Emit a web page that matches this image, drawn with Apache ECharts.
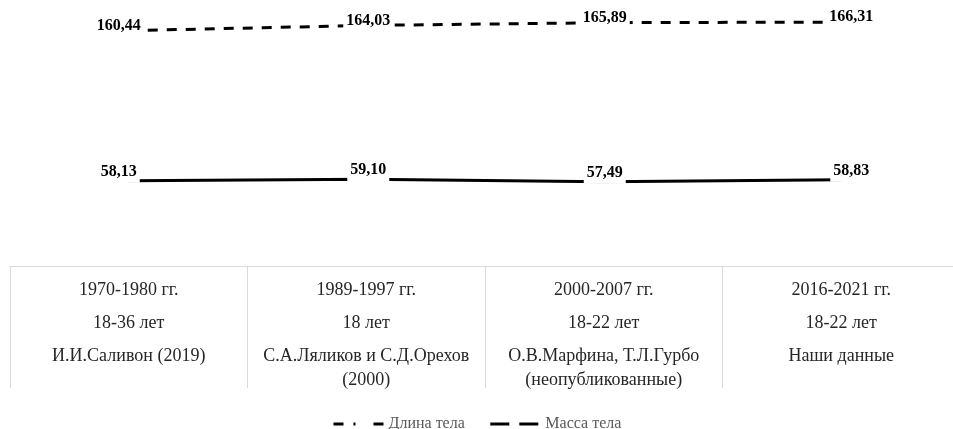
<!DOCTYPE html>
<html>
<head>
<meta charset="utf-8">
<script src="https://cdn.jsdelivr.net/npm/echarts@6/dist/echarts.min.js"></script>
<style>
  html, body { margin: 0; padding: 0; background: #fff; overflow: hidden; }
  /* правая граница таблицы уходит за край картинки */
  #chart { width: 960px; height: 429px; }
</style>
</head>
<body>
<div id="chart"></div>
<script>
var periods = ['1970-1980 гг.', '1989-1997 гг.', '2000-2007 гг.', '2016-2021 гг.']
var ages = ['18-36 лет', '18 лет', '18-22 лет', '18-22 лет']
var authors = ['И.И.Саливон (2019)', 'С.А.Ляликов и С.Д.Орехов\n(2000)', 'О.В.Марфина, Т.Л.Гурбо\n(неопубликованные)', 'Наши данные']
var lengthValues = [160.44, 164.03, 165.89, 166.31]
var massValues = [58.13, 59.10, 57.49, 58.83]
var seriesNames = ['Длина тела', 'Масса тела']

var font = "'Liberation Serif', 'Times New Roman', serif"
// сдвиг подписей по горизонтали (крайние немного наружу)
var labelDx = [-10, 2, 1, 10]

function makeData(values, dy) {
  return values.map(function(v, i) {
    return { value: v, label: { offset: [labelDx[i], dy] } }
  })
}

var chart = echarts.init(document.getElementById('chart'))

var valueLabel = {
  show: true,
  position: 'inside',
  formatter: function(p) {
    return p.value.toFixed(2).replace('.', ',')
  },
  fontFamily: font,
  fontWeight: 'bold',
  fontSize: 16,
  color: '#000',
  backgroundColor: '#fff',
  padding: [1, 3, 5, 3]
}

var option = {
  animation: false,
  grid: {
    left: 10,
    right: 0,
    top: 2,
    bottom: 163
  },
  xAxis: {
    type: 'category',
    data: periods,
    boundaryGap: true,
    axisLine: { lineStyle: { color: '#d9d9d9', width: 1 } },
    axisTick: { show: true, length: 122, lineStyle: { color: '#d9d9d9', width: 1 } },
    splitLine: { show: false },
    axisLabel: {
      interval: 0,
      margin: 8,
      formatter: function(value, i) {
        var parts = authors[i].split('\n')
        var s = '{a|' + value + '}\n{a|' + ages[i] + '}\n{a|' + parts[0] + '}'
        if (parts[1]) s += '\n{b|' + parts[1] + '}'
        return s
      },
      rich: {
        a: { fontFamily: font, fontSize: 18, color: '#262626', lineHeight: 33, align: 'center' },
        b: { fontFamily: font, fontSize: 18, color: '#262626', lineHeight: 15, align: 'center' }
      }
    }
  },
  yAxis: {
    type: 'value',
    min: 0,
    max: 180,
    show: false,
    splitLine: { show: false }
  },
  legend: {
    top: 416,
    left: 332,
    padding: 0,
    itemWidth: 50,
    itemHeight: 18,
    itemGap: 24,
    textStyle: { fontFamily: font, fontSize: 16, color: '#595959' },
    data: [
      { name: seriesNames[0], itemStyle: { opacity: 0 }, lineStyle: { type: [10, 10, 2, 18, 10, 100], width: 3, color: '#000' } },
      { name: seriesNames[1], itemStyle: { opacity: 0 }, lineStyle: { type: [19, 10, 19, 100], width: 3, color: '#000' } }
    ]
  },
  series: [
    {
      name: seriesNames[0],
      type: 'line',
      symbol: 'circle',
      symbolSize: 1,
      color: '#000',
      lineStyle: { color: '#000', width: 3, type: [10, 9] },
      label: valueLabel,
      data: makeData(lengthValues, -5)
    },
    {
      name: seriesNames[1],
      type: 'line',
      symbol: 'circle',
      symbolSize: 1,
      color: '#000',
      lineStyle: { color: '#000', width: 3, type: 'solid' },
      label: valueLabel,
      data: makeData(massValues, -9)
    }
  ]
}

chart.setOption(option)
</script>
</body>
</html>
